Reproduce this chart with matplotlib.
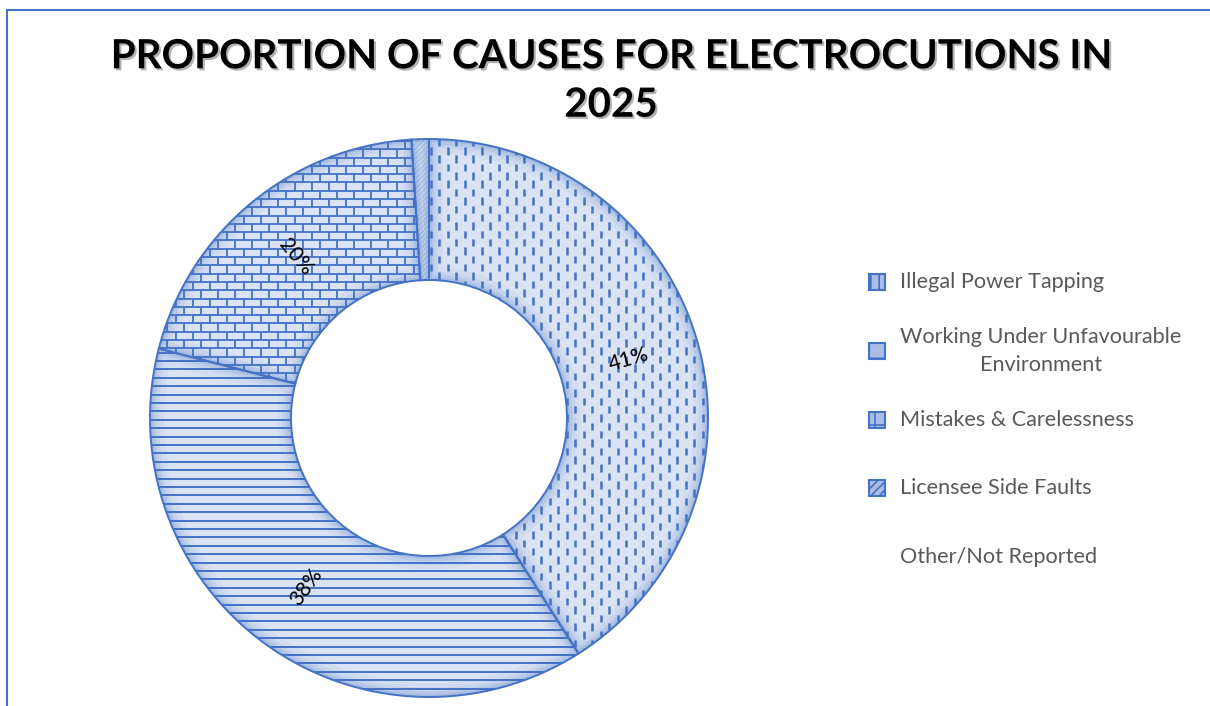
import numpy as np
import matplotlib.pyplot as plt
import matplotlib.patheffects as pe
from matplotlib.patches import PathPatch, Rectangle
from matplotlib.collections import LineCollection

plt.rcParams['font.family'] = ['Lato', 'DejaVu Sans']
plt.rcParams['hatch.linewidth'] = 1.2

# causes and their share (%) of electrocutions
categories = ['Illegal Power Tapping',
              'Working Under Unfavourable\nEnvironment',
              'Mistakes & Carelessness',
              'Licensee Side Faults',
              'Other/Not Reported']
shares = [41, 38, 20, 1, 0]
title = 'PROPORTION OF CAUSES FOR ELECTROCUTIONS IN\n2025'

BLUE = '#4472c4'
FILL = '#dae3f3'
LIGHT = '#bccbea'
GREY = '#595959'

W, H = 1210, 706
fig = plt.figure(figsize=(W / 100, H / 100), dpi=100)
ax = fig.add_axes([0, 0, 1, 1])

cx, cy = 429, H - 418
R, r_in = 279, 138

wedges, _ = ax.pie(shares, startangle=90, counterclock=False,
                   center=(cx, cy), radius=R,
                   wedgeprops=dict(width=R - r_in, facecolor=FILL,
                                   edgecolor='none', linewidth=0))
ax.set_xlim(0, W)
ax.set_ylim(0, H)
ax.axis('off')

# fill textures, clipped to each wedge
x0, x1 = cx - R, cx + R
y0, y1 = cy - R, cy + R


def dashes():
    segs = []
    for i, x in enumerate(np.arange(x0, x1, 8.5)):
        off = 8.35 * (i % 2)
        for y in np.arange(y0 - 17 + off, y1, 16.7):
            segs.append([(x, y), (x, y + 7.5)])
    return segs


def hlines(step):
    return [[(x0, y), (x1, y)] for y in np.arange(y0, y1, step)]


def bricks(step=8.3, bw=17):
    segs = hlines(step)
    for j, y in enumerate(np.arange(y0, y1, step)):
        off = bw / 2 * (j % 2)
        for x in np.arange(x0 + off, x1, bw):
            segs.append([(x, y), (x, y + step)])
    return segs


def diagonals(step):
    h = y1 - y0
    return [[(x0 + d, y0), (x0 + d + h, y1)] for d in np.arange(-h, x1 - x0, step)]


textures = [(dashes(), BLUE, 1.8),
            (hlines(8.4), BLUE, 1.4),
            (bricks(), BLUE, 1.3),
            (diagonals(5), LIGHT, 0.9),
            None]

for w, tex, v in zip(wedges, textures, shares):
    if v == 0:
        continue
    segs, col, lw = tex
    lc = LineCollection(segs, colors=col, linewidths=lw, zorder=2)
    ax.add_collection(lc)
    lc.set_clip_path(w)
    # soft inner shadow along the wedge edges
    for glw, a in [(20, 0.06), (13, 0.08), (8, 0.11), (4, 0.15)]:
        g = PathPatch(w.get_path(), fill=False, edgecolor=BLUE, lw=glw,
                      alpha=a, zorder=3)
        ax.add_patch(g)
        g.set_clip_path(w)
    ax.add_patch(PathPatch(w.get_path(), fill=False, edgecolor=BLUE,
                           lw=1.4, zorder=4))

# percentage labels, rotated along the radius
total = sum(shares)
rm = (R + r_in) / 2
for v, w in zip(shares, wedges):
    pct = 100 * v / total
    if pct < 5:
        continue
    mid = np.deg2rad((w.theta1 + w.theta2) / 2)
    rot = (np.rad2deg(mid) + 90) % 180 - 90
    ax.text(cx + rm * np.cos(mid), cy + rm * np.sin(mid), f'{pct:.0f}%',
            rotation=rot, rotation_mode='anchor', ha='center', va='center',
            fontsize=15, color='black', zorder=5)

# legend
marker_hatch = ['||', '-', '+', '////', None]
row_y = 282
for name, v, hatch in zip(categories, shares, marker_hatch):
    yy = H - row_y
    if v > 0:
        ax.add_patch(Rectangle((869, yy - 8), 16, 16, facecolor='#a9bde6',
                               edgecolor=BLUE, lw=1.5, hatch=hatch, zorder=4))
    t = ax.text(900, yy, name, ha='left', va='center', fontsize=15.6,
                color=GREY, linespacing=1.5)
    t.set_multialignment('center')
    row_y += 68.75

ax.text(611, H - 81, title, ha='center', va='center', fontsize=29,
        fontweight='bold', color='black', linespacing=1.38,
        path_effects=[pe.withSimplePatchShadow(offset=(1.5, -1.5),
                                               shadow_rgbFace='#7f7f7f',
                                               alpha=0.6)])

# chart frame
ax.add_patch(Rectangle((7, -10), W + 20, H, fill=False, edgecolor=BLUE,
                       lw=1.5, clip_on=False))

fig.savefig('out.png', dpi=100)
